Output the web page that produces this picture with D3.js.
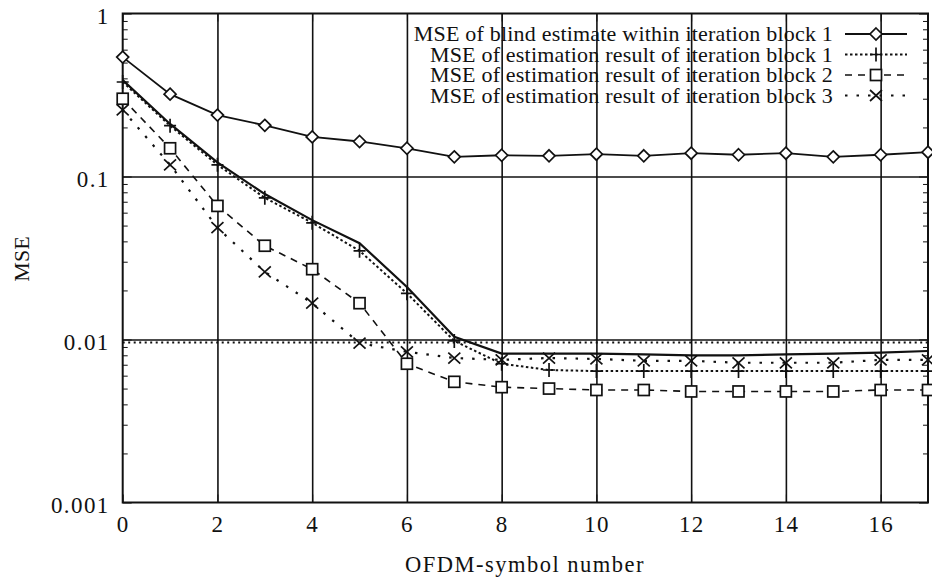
<!DOCTYPE html>
<html>
<head>
<meta charset="utf-8">
<script src="https://cdn.jsdelivr.net/npm/d3@7"></script>
<style>
  body { margin: 0; background: #fff; }
  svg text { font-family: "Liberation Serif", "Times New Roman", serif; fill: #111; }
  .domain { display: none; }
</style>
</head>
<body>
<svg id="chart" width="932" height="580"></svg>
<script>
// ---- data ----
var symbols = [0,1,2,3,4,5,6,7,8,9,10,11,12,13,14,15,16,17];

var blindBlock1 = [0.54,0.32,0.238,0.206,0.175,0.164,0.149,0.132,0.135,0.134,0.137,0.134,0.139,0.136,0.139,0.132,0.136,0.141];
var resultBlock1 = [0.38,0.205,0.118,0.074,0.052,0.035,0.0192,0.0098,0.0071,0.0065,0.0064,0.0064,0.0064,0.0064,0.0064,0.0064,0.0064,0.0064];
var resultBlock2 = [0.30,0.149,0.066,0.0376,0.027,0.0167,0.0071,0.0055,0.0051,0.0050,0.0049,0.0049,0.0048,0.0048,0.0048,0.0048,0.0049,0.0049];
var resultBlock3 = [0.256,0.118,0.0485,0.026,0.0167,0.0095,0.0084,0.0077,0.0075,0.0077,0.0076,0.0074,0.0074,0.0072,0.0072,0.0072,0.0075,0.0075];
// unlabelled solid curve without markers
var plainCurve = [0.39,0.21,0.122,0.078,0.054,0.039,0.021,0.0104,0.0082,0.0082,0.0082,0.0081,0.0080,0.0080,0.0081,0.0082,0.0083,0.0085];

var yMajor = [1, 0.1, 0.01, 0.001];
var yMajorLabels = ["1", "0.1", "0.01", "0.001"];
var xTicks = [0,2,4,6,8,10,12,14,16];

var legendLabels = [
  "MSE of blind estimate within iteration block 1",
  "MSE of estimation result of iteration block 1",
  "MSE of estimation result of iteration block 2",
  "MSE of estimation result of iteration block 3"
];

(function() {
var svg = d3.select("#chart");
var pl = 122.7, pr = 928, pt = 13.5, pb = 502.5;

var x = d3.scaleLinear().domain([0, 17]).range([pl, pr]);
var y = d3.scaleLog().domain([0.001, 1]).range([pb, pt]);

// minor log ticks
var yMinor = [];
[0.001, 0.01, 0.1].forEach(function(d) {
  for (var k = 2; k <= 9; k++) yMinor.push(d * k);
});

// ==================== grid ====================
svg.append("g")
  .attr("transform", "translate(0," + pb + ")")
  .call(d3.axisBottom(x).tickValues(xTicks.slice(1)).tickSize(-(pb - pt)).tickFormat(""))
  .selectAll("line").attr("stroke", "#111").attr("stroke-width", 1.6);

svg.append("g")
  .attr("transform", "translate(" + pl + ",0)")
  .call(d3.axisLeft(y).tickValues([0.1, 0.01]).tickSize(-(pr - pl)).tickFormat(""))
  .selectAll("line").attr("stroke", "#111").attr("stroke-width", 1.6);

// dotted line just under 0.01
svg.append("line")
  .attr("x1", pl).attr("x2", pr)
  .attr("y1", y(0.01) + 3).attr("y2", y(0.01) + 3)
  .attr("stroke", "#111").attr("stroke-width", 2.2)
  .attr("stroke-dasharray", "2,3.5");

// ==================== axes ====================
var gl = svg.append("g").attr("transform", "translate(" + pl + ",0)");
gl.call(d3.axisLeft(y).tickValues(yMajor).tickSize(-9).tickPadding(13)
    .tickFormat(function(d, i) { return yMajorLabels[i]; }));
gl.selectAll("text").attr("font-size", 23).attr("letter-spacing", 1.4).attr("dy", "0.45em");
svg.append("g").attr("transform", "translate(" + pl + ",0)")
  .call(d3.axisLeft(y).tickValues(yMinor).tickSize(-5).tickFormat(""));

svg.append("g").attr("transform", "translate(" + pr + ",0)")
  .call(d3.axisRight(y).tickValues(yMajor).tickSize(-9).tickFormat(""));
svg.append("g").attr("transform", "translate(" + pr + ",0)")
  .call(d3.axisRight(y).tickValues(yMinor).tickSize(-5).tickFormat(""));

var gb = svg.append("g").attr("transform", "translate(0," + pb + ")");
gb.call(d3.axisBottom(x).tickValues(xTicks).tickSize(-8).tickPadding(13));
gb.selectAll("text").attr("font-size", 23).attr("letter-spacing", 1.2);

svg.append("g").attr("transform", "translate(0," + pt + ")")
  .call(d3.axisTop(x).tickValues(xTicks).tickSize(-8).tickFormat(""));

svg.selectAll(".tick line").attr("stroke", "#111");

// frame
svg.append("rect")
  .attr("x", pl).attr("y", pt)
  .attr("width", pr - pl).attr("height", pb - pt)
  .attr("fill", "none").attr("stroke", "#111").attr("stroke-width", 2);

// axis titles
svg.append("text")
  .attr("x", 525).attr("y", 572)
  .attr("text-anchor", "middle").attr("font-size", 22.5).attr("letter-spacing", 1.5)
  .text("OFDM-symbol number");
svg.append("text")
  .attr("transform", "translate(29,259) rotate(-90)")
  .attr("text-anchor", "middle").attr("font-size", 22)
  .text("MSE");

// ==================== series ====================
var series = [
  { values: blindBlock1, dash: null, width: 1.8, marker: "diamond" },
  { values: resultBlock1, dash: "2.5,2.5", width: 2, marker: "plus" },
  { values: resultBlock2, dash: "7,6", width: 1.6, marker: "square" },
  { values: resultBlock3, dash: "2.5,9", width: 2.2, marker: "cross" }
];

var line = d3.line()
  .x(function(d, i) { return x(symbols[i]); })
  .y(function(d) { return y(d); });

svg.append("path")
  .attr("d", line(plainCurve))
  .attr("fill", "none").attr("stroke", "#111").attr("stroke-width", 2.2);

series.forEach(function(s) {
  svg.append("path")
    .attr("d", line(s.values))
    .attr("fill", "none")
    .attr("stroke", "#111")
    .attr("stroke-width", s.width)
    .attr("stroke-dasharray", s.dash);
});

function drawMarker(g, type, cx, cy) {
  var m;
  if (type === "diamond") {
    m = g.append("path").attr("d", "M" + cx + "," + (cy - 6) + "L" + (cx + 6) + "," + cy +
      "L" + cx + "," + (cy + 6) + "L" + (cx - 6) + "," + cy + "Z");
  } else if (type === "plus") {
    m = g.append("path").attr("d", "M" + (cx - 6) + "," + cy + "H" + (cx + 6) +
      "M" + cx + "," + (cy - 7) + "V" + (cy + 7));
  } else if (type === "square") {
    m = g.append("rect").attr("x", cx - 5.5).attr("y", cy - 5.5).attr("width", 11).attr("height", 11);
  } else {
    m = g.append("path").attr("d", "M" + (cx - 6) + "," + (cy - 5.5) + "L" + (cx + 6) + "," + (cy + 5.5) +
      "M" + (cx - 6) + "," + (cy + 5.5) + "L" + (cx + 6) + "," + (cy - 5.5));
  }
  m.attr("fill", type === "diamond" || type === "square" ? "#fff" : "none")
    .attr("stroke", "#111").attr("stroke-width", 1.7);
}

var marks = svg.append("g");
series.forEach(function(s) {
  s.values.forEach(function(v, i) {
    drawMarker(marks, s.marker, x(symbols[i]), y(v));
  });
});

// ==================== legend ====================
var legend = svg.append("g");
legendLabels.forEach(function(label, i) {
  var s = series[i];
  var ly = 34 + i * 20.5;
  legend.append("text")
    .attr("x", 833).attr("y", ly + 7)
    .attr("text-anchor", "end").attr("font-size", 22)
    .attr("letter-spacing", 0.2)
    .text(label);
  legend.append("line")
    .attr("x1", 845).attr("x2", 907).attr("y1", ly).attr("y2", ly)
    .attr("stroke", "#111").attr("stroke-width", s.width)
    .attr("stroke-dasharray", s.dash);
  drawMarker(legend, s.marker, 876, ly);
});
})();
</script>
</body>
</html>
